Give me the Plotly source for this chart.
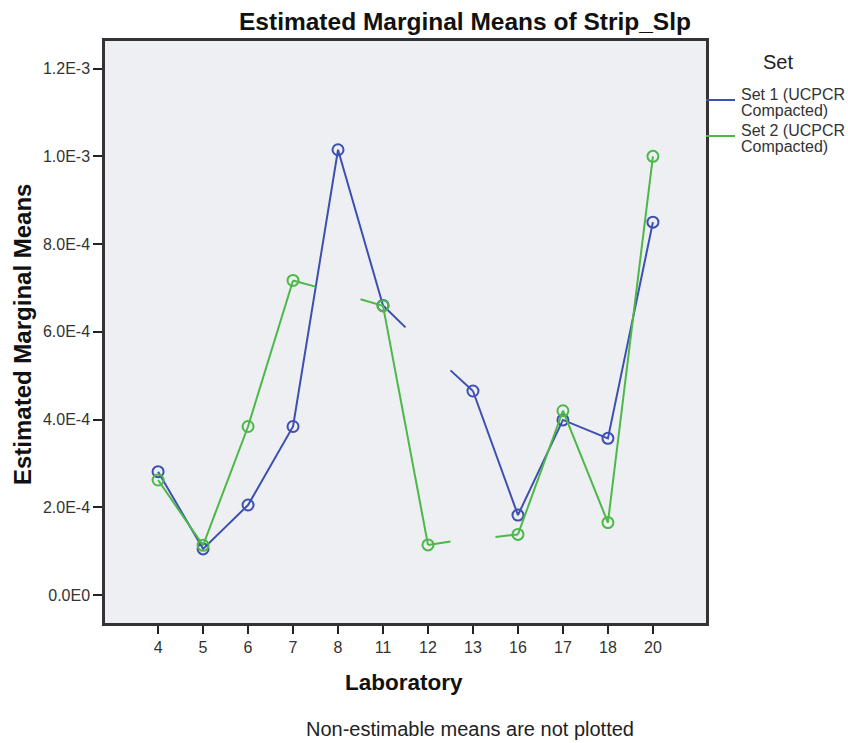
import plotly.graph_objects as go

labs = ["4", "5", "6", "7", "8", "11", "12", "13", "16", "17", "18", "20"]
set1 = [2.81e-4, 1.05e-4, 2.05e-4, 3.84e-4, 1.015e-3, 6.6e-4, None, 4.65e-4, 1.82e-4, 3.99e-4, 3.57e-4, 8.5e-4]
set2 = [2.62e-4, 1.13e-4, 3.84e-4, 7.17e-4, None, 6.59e-4, 1.14e-4, None, 1.38e-4, 4.2e-4, 1.65e-4, 1.0e-3]
# half-segment ends drawn toward non-estimable neighbours: (from label, toward label, end value)
stubs1 = [("11", "12", 6.1e-4), ("13", "12", 5.12e-4)]
stubs2 = [("7", "8", 7.03e-4), ("11", "8", 6.74e-4), ("12", "13", 1.22e-4), ("16", "13", 1.32e-4)]
yticks = [0, 2e-4, 4e-4, 6e-4, 8e-4, 1.0e-3, 1.2e-3]
ytext = ["0.0E0", "2.0E-4", "4.0E-4", "6.0E-4", "8.0E-4", "1.0E-3", "1.2E-3"]
series = [(["Set 1 (UCPCR", "Compacted)"], set1, stubs1, "#3d4fb0"),
          (["Set 2 (UCPCR", "Compacted)"], set2, stubs2, "#4cb848")]

W, H = 848, 743
L, R, T, B = 105, 142, 41, 120
PW, PH = W - L - R, H - T - B


def px(x):
    return (x - L) / PW


def py(y):
    return (H - B - y) / PH


idx = {l: i for i, l in enumerate(labs)}
fig = go.Figure()
for name, vals, stubs, col in series:
    for a, b, v in stubs:
        ia, ib = idx[a], idx[b]
        fig.add_trace(go.Scatter(x=[ia, (ia + ib) / 2], y=[vals[ia], v], mode="lines",
                                 line=dict(color=col, width=2), showlegend=False, hoverinfo="skip"))
    fig.add_trace(go.Scatter(x=list(range(len(labs))), y=vals, mode="lines+markers", name=" ".join(name),
                             connectgaps=False, line=dict(color=col, width=2),
                             marker=dict(symbol="circle-open", size=11, color=col, line=dict(width=2)),
                             showlegend=False))

fig.update_layout(
    width=W, height=H,
    margin=dict(l=L, r=R, t=T, b=B, autoexpand=False),
    plot_bgcolor="#eeeff3", paper_bgcolor="white",
    font=dict(family="Liberation Sans, Arial, sans-serif", color="#222"),
    title=dict(text="<b>Estimated Marginal Means of Strip_Slp</b>", x=(465 / W), xanchor="center",
               xref="container", y=1 - 21 / H, yref="container", yanchor="middle",
               font=dict(size=24.5, color="#111")),
)
fig.update_xaxes(range=[-1.18, 12.18], tickmode="array", tickvals=list(range(len(labs))), ticktext=labs,
                 ticks="outside", ticklen=8, tickwidth=2, tickcolor="#222", showgrid=False, zeroline=False,
                 showline=True, linecolor="#333", linewidth=2.5, mirror=True, automargin=False,
                 tickfont=dict(size=16, color="#333"))
fig.update_yaxes(range=[-6.4e-5, 1.263e-3], tickmode="array", tickvals=yticks, ticktext=ytext,
                 ticks="outside", ticklen=9, tickwidth=2, tickcolor="#222", showgrid=False, zeroline=False,
                 showline=True, linecolor="#333", linewidth=2.5, mirror=True, automargin=False,
                 tickfont=dict(size=16, color="#333"))

# axis titles
fig.add_annotation(text="<b>Estimated Marginal Means</b>", xref="paper", yref="paper", x=px(22), y=py(335),
                   textangle=-90, showarrow=False, xanchor="center", yanchor="middle",
                   font=dict(size=24, color="#111"))
fig.add_annotation(text="<b>Laboratory</b>", xref="paper", yref="paper", x=px(404), y=py(682),
                   showarrow=False, xanchor="center", yanchor="middle", font=dict(size=22.5, color="#111"))

# legend drawn at the plot's right edge
fig.add_annotation(text="Set", xref="paper", yref="paper", x=px(778), y=py(62),
                   showarrow=False, font=dict(size=20, color="#222"), xanchor="center", yanchor="middle")
for k, (name, vals, stubs, col) in enumerate(series):
    ly = 100 + 36 * k
    fig.add_shape(type="line", xref="paper", yref="paper", x0=1.0, x1=px(735), y0=py(ly), y1=py(ly),
                  line=dict(color=col, width=2))
    for j, line in enumerate(name):
        fig.add_annotation(text=line, xref="paper", yref="paper", x=px(739), y=py(ly - 6 + 16.6 * j),
                           showarrow=False, xanchor="left", yanchor="middle",
                           font=dict(size=16, color="#333"))

fig.add_annotation(text="Non-estimable means are not plotted", xref="paper", yref="paper",
                   x=px(470), y=py(729), showarrow=False, xanchor="center", yanchor="middle",
                   font=dict(size=20, color="#222"))

fig.write_html("out.html", config={"displayModeBar": False},
               post_script="document.body.style.margin='0';document.body.style.padding='0';")
